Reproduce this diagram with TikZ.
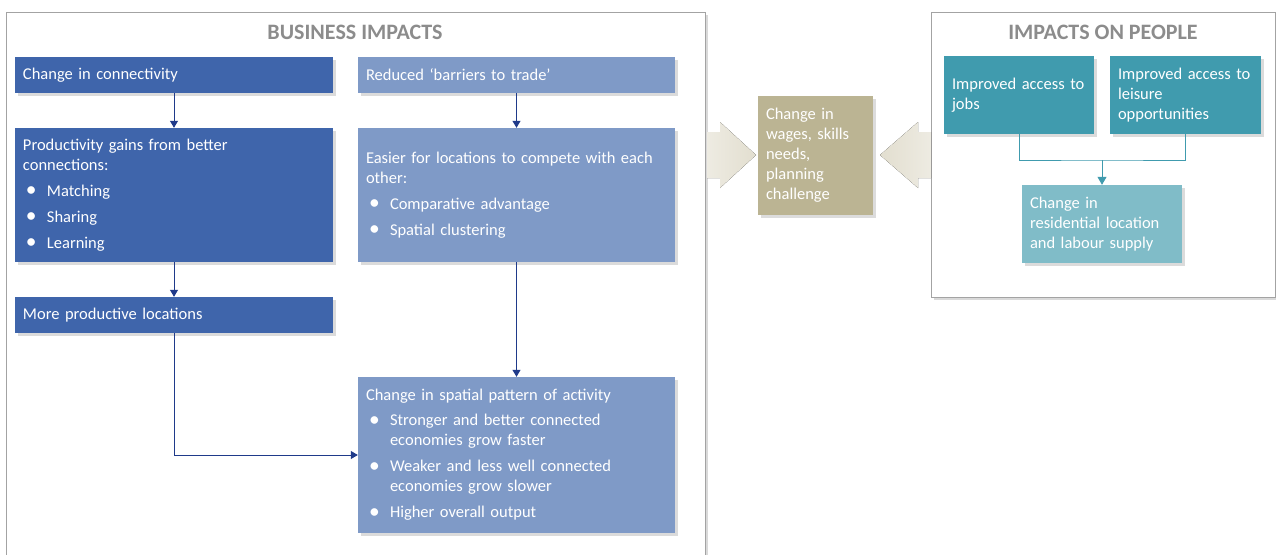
\documentclass[tikz,border=0pt]{standalone}
\usepackage{fontspec}
\setmainfont{Carlito}
\usetikzlibrary{arrows.meta,shadows}
\definecolor{dkblue}{HTML}{3F65AB}
\definecolor{ltblue}{HTML}{7F9AC7}
\definecolor{navy}{HTML}{1F3A8A}
\definecolor{teal}{HTML}{409BAE}
\definecolor{ltteal}{HTML}{80BCC8}
\definecolor{beige}{HTML}{BBB493}
\definecolor{arrbeige}{HTML}{E2DECF}
\definecolor{titlegray}{HTML}{8C8C8C}
\definecolor{framegray}{HTML}{A3A3A3}
\newcommand{\itm}[1]{\makebox[24pt][l]{\hspace{3pt}\raisebox{-0.5pt}{\scalebox{1.3}{\textbullet}}}#1}
\newcommand{\cnt}{\hspace*{24pt}}
\begin{document}
\begin{tikzpicture}[x=1pt,y=-1pt,
  frame/.style={draw=framegray,line width=1pt,fill=white,inner sep=0pt,
    drop shadow={shadow xshift=2.5pt,shadow yshift=-2.5pt,opacity=0.3}},
  card/.style={inner xsep=8pt,inner ysep=0pt,text=white,align=left,
    font=\fontsize{16.5}{20}\selectfont,
    drop shadow={shadow xshift=3pt,shadow yshift=-3pt,opacity=0.28}},
  ttl/.style={text=titlegray,font=\fontsize{22}{24}\selectfont\bfseries},
  flow/.style={draw=navy,line width=1pt,-{Triangle[width=8pt,length=7pt]}},
  tflow/.style={draw=teal,line width=1pt},
  bigarrow/.style={fill=arrbeige,draw=none}
]
\useasboundingbox (0,0) rectangle (1276,554);
\begin{scope}
\clip (0,0) rectangle (1276,554);
% outer frames
\node[frame,minimum width=699pt,minimum height=570pt] (bframe) at (355.5,297) {};
\node[frame,minimum width=344pt,minimum height=285pt] (pframe) at (1103,154.5) {};
\node[ttl] (btitle) at (355,32) {BUSINESS IMPACTS};
\node[ttl] (ptitle) at (1103,32) {IMPACTS ON PEOPLE};
% big arrows
\fill[left color=arrbeige!60,right color=arrbeige] (707,132) -- (720,132) -- (720,122) -- (756,155) -- (720,188) -- (720,178) -- (707,178) -- cycle;
\fill[right color=arrbeige!60,left color=arrbeige] (931,132) -- (918,132) -- (918,122) -- (880,155) -- (918,188) -- (918,178) -- (931,178) -- cycle;
% business cards
\node[card,fill=dkblue,minimum width=318pt,minimum height=36pt,text width=302pt] (cc) at (174,75) {Change in connectivity};
\node[card,fill=ltblue,minimum width=317pt,minimum height=36pt,text width=301pt] (rb) at (516.5,75) {Reduced ‘barriers to trade’};
\node[card,fill=dkblue,minimum width=318pt,minimum height=134pt,text width=302pt] (pg) at (174,195) {Productivity gains from better\\connections:\\[6pt]\itm{Matching}\\[6pt]\itm{Sharing}\\[6pt]\itm{Learning}};
\node[card,fill=ltblue,minimum width=317pt,minimum height=134pt,text width=301pt] (ez) at (516.5,195) {Easier for locations to compete with each\\other:\\[6pt]\itm{Comparative advantage}\\[6pt]\itm{Spatial clustering}};
\node[card,fill=dkblue,minimum width=318pt,minimum height=36pt,text width=302pt] (mp) at (174,315) {More productive locations};
\node[card,fill=ltblue,minimum width=317pt,minimum height=156pt,text width=301pt] (sp) at (516.5,455) {Change in spatial pattern of activity\\[5pt]\itm{Stronger and better connected}\\\cnt economies grow faster\\[6pt]\itm{Weaker and less well connected}\\\cnt economies grow slower\\[6pt]\itm{Higher overall output}};
% middle card
\node[card,fill=beige,minimum width=115pt,minimum height=119pt,text width=99pt] (cw) at (815.5,155.5) {Change in\\wages, skills\\needs,\\planning\\challenge};
% people cards
\node[card,fill=teal,minimum width=150pt,minimum height=78pt,text width=134pt] (ij) at (1019,95) {Improved access to\\jobs};
\node[card,fill=teal,minimum width=151pt,minimum height=78pt,text width=135pt] (il) at (1185.5,95) {Improved access to\\leisure\\opportunities};
\node[card,fill=ltteal,minimum width=160pt,minimum height=78pt,text width=144pt] (rl) at (1102,224) {Change in\\residential location\\and labour supply};
% connectors
\draw[flow] (cc.south) -- (pg.north);
\draw[flow] (rb.south) -- (ez.north);
\draw[flow] (pg.south) -- (mp.north);
\draw[flow] (ez.south) -- (sp.north);
\draw[flow] (mp.south) |- (sp.west);
\coordinate (jn) at (1102,160);
\draw[tflow] (ij.south) |- (jn) -| (il.south);
\draw[tflow,-{Triangle[width=9pt,length=8pt]}] (jn) -- (rl.north);
\end{scope}
\end{tikzpicture}
\end{document}
